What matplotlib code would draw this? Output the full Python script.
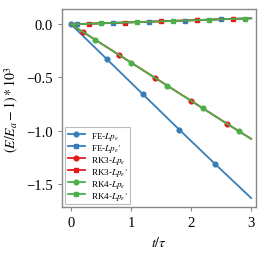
import matplotlib
matplotlib.use("Agg")
import matplotlib.pyplot as plt

plt.rcParams['font.family'] = ['Liberation Serif', 'DejaVu Serif']
plt.rcParams['mathtext.fontset'] = 'stix'

# data: (t, value) pairs; first/last points are line ends, markers at interior sample points
t_fe_p = [0.0, 0.6, 1.2, 1.8, 2.4, 3.0]
fe_p = [0.0, -0.33, -0.66, -0.99, -1.315, -1.635]
t_fe_pp = [0.0, 0.1, 0.7, 1.3, 1.9, 2.5, 3.0]
fe_pp = [0.0, 0.002, 0.013, 0.025, 0.036, 0.048, 0.057]
t_rk3_p = [0.0, 0.2, 0.8, 1.4, 2.0, 2.6, 3.0]
rk3_p = [0.0, -0.072, -0.288, -0.504, -0.72, -0.936, -1.078]
t_rk3_pp = [0.0, 0.3, 0.9, 1.5, 2.1, 2.7, 3.0]
rk3_pp = [0.0, 0.006, 0.017, 0.029, 0.040, 0.051, 0.057]
t_rk4_p = [0.0, 0.4, 1.0, 1.6, 2.2, 2.8, 3.0]
rk4_p = [0.0, -0.144, -0.36, -0.576, -0.792, -1.008, -1.078]
t_rk4_pp = [0.0, 0.5, 1.1, 1.7, 2.3, 2.9, 3.0]
rk4_pp = [0.0, 0.010, 0.021, 0.032, 0.044, 0.055, 0.057]

blue = '#377eb8'
red = '#e41a1c'
green = '#4daf4a'

fig = plt.figure(figsize=(2.7, 2.55), dpi=100)
ax = fig.add_axes([0.23, 0.184, 0.718, 0.777])

series = [
    (t_fe_p, fe_p, blue, 'o', r'FE-$Lp_\varepsilon$', list(range(0, 5))),
    (t_fe_pp, fe_pp, blue, 's', r"FE-$Lp_\varepsilon{\prime}$", list(range(1, 6))),
    (t_rk3_p, rk3_p, red, 'o', r'RK3-$Lp_\varepsilon$', list(range(1, 6))),
    (t_rk3_pp, rk3_pp, red, 's', r"RK3-$Lp_\varepsilon{\prime}$", list(range(1, 6))),
    (t_rk4_p, rk4_p, green, 'o', r'RK4-$Lp_\varepsilon$', list(range(1, 6))),
    (t_rk4_pp, rk4_pp, green, 's', r"RK4-$Lp_\varepsilon{\prime}$", list(range(1, 6))),
]
for t, v, c, m, lab, me in series:
    ax.plot(t, v, color=c, marker=m, markersize=3.4, lw=1.3, markevery=me, label=lab)

ax.set_xlim(-0.15, 3.08)
ax.set_ylim(-1.72, 0.145)
ax.set_xticks([0, 1, 2, 3])
ax.set_yticks([0.0, -0.5, -1.0, -1.5])
ax.set_yticklabels(['0.0', '\u22120.5', '\u22121.0', '\u22121.5'])
ax.tick_params(labelsize=10.5, color='#888888', length=3, width=0.8)
for s in ax.spines.values():
    s.set_color('#888888')
    s.set_linewidth(1.0)
ax.set_xlabel(r'$t/\tau$', fontsize=10)
ax.set_ylabel(r'$(E/E_a-1)*10^3$', fontsize=10)

leg = ax.legend(loc='lower left', fontsize=6.6, frameon=True, fancybox=False,
                edgecolor='#aaaaaa', handlelength=1.9, labelspacing=0.0,
                borderpad=0.3, handletextpad=0.6, borderaxespad=0.3)
leg.get_frame().set_linewidth(0.8)

fig.savefig('out.png', dpi=100)
